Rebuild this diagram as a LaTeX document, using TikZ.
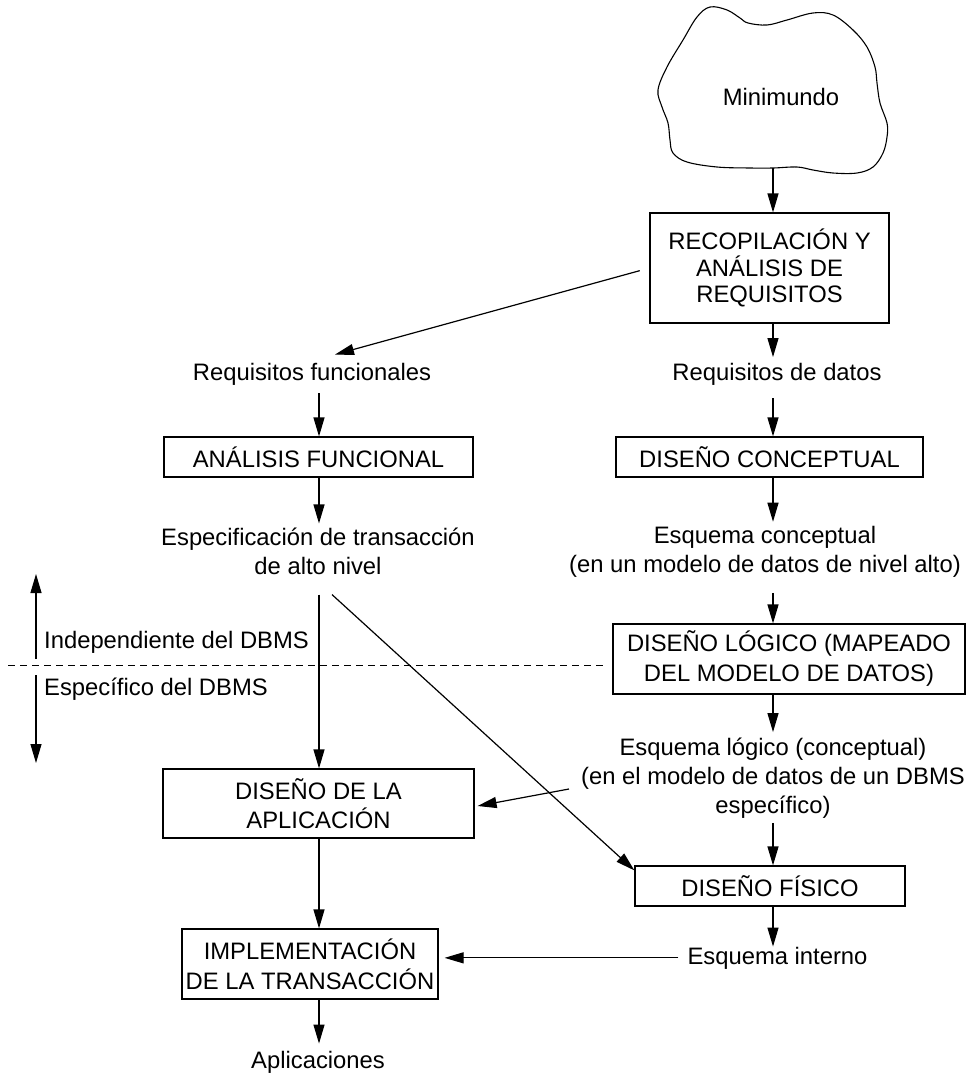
\documentclass[tikz,border=0pt]{standalone}
\usepackage{fontspec}
\setmainfont{Liberation Sans}
\usetikzlibrary{arrows.meta,calc}
\begin{document}
\begin{tikzpicture}[x=1pt,y=-1pt,
  font=\fontsize{23.8}{29}\selectfont,
  every node/.style={inner sep=0pt, align=center},
  box/.style={draw, line width=1.2pt},
  arr/.style={line width=1.2pt, -{Triangle[length=19pt,width=11pt]}},
  sep/.style={line width=1pt, dash pattern=on 7pt off 5pt}]
\useasboundingbox[fill=white] (0,0) rectangle (971,1074);

% column axes for the vertical connectors
\coordinate (colL) at (319,0);
\coordinate (colR) at (773,0);

% the mini-world cloud
\draw[line width=1.1pt] plot[smooth cycle, tension=0.6] coordinates {
  (658,90) (667,67) (683,40) (697,17) (710,7) (727,10) (740,18) (748,23)
  (767,25) (787,20) (813,13) (833,15) (853,30) (867,47) (875,67) (877,83)
  (880,103) (887,123) (887,137) (883,153) (873,167) (857,173) (833,173)
  (813,170) (797,167) (773,168) (750,168) (717,167) (687,162) (673,153)
  (670,140) (668,123) (662,107)};
\node[anchor=base] (mini) at (781,105) {Minimundo};
\coordinate (cloudb) at (773,168);

% process boxes and intermediate products
\node[box, minimum width=239pt, minimum height=110pt, font=\fontsize{23.8}{26.5}\selectfont] (req) at (769.5,268) {RECOPILACIÓN Y\\ANÁLISIS DE\\REQUISITOS};
\node[anchor=base] (rf) at (312,380) {Requisitos funcionales};
\node[anchor=base] (rd) at (777,380) {Requisitos de datos};
\node[box, minimum width=309pt, minimum height=40pt] (af) at (318.5,457) {ANÁLISIS FUNCIONAL};
\node[box, minimum width=307pt, minimum height=40pt] (dc) at (769.5,457) {DISEÑO CONCEPTUAL};
\node (esp) at (318,551) {Especificación de transacción\\de alto nivel};
\node (ec) at (765,552) {Esquema conceptual\\(en un modelo de datos de nivel alto)};
\node[box, minimum width=352pt, minimum height=70pt, font=\fontsize{23.8}{30}\selectfont] (dl) at (789,659) {DISEÑO LÓGICO (MAPEADO\\DEL MODELO DE DATOS)};
\node (el) at (773,778.5) {Esquema lógico (conceptual)\\(en el modelo de datos de un DBMS\\específico)};
\node[box, minimum width=311pt, minimum height=69pt] (dapp) at (318.5,803.5) {DISEÑO DE LA\\APLICACIÓN};
\node[box, minimum width=270pt, minimum height=40pt] (df) at (770,886) {DISEÑO FÍSICO};
\node[anchor=base] (ei) at (777.5,964) {Esquema interno};
\node[box, minimum width=256pt, minimum height=70pt, font=\fontsize{23.8}{30}\selectfont] (impl) at (310,964) {IMPLEMENTACIÓN\\DE LA TRANSACCIÓN};
\node[anchor=base] (apl) at (318,1068) {Aplicaciones};

% DBMS-independent / DBMS-specific split
\node[anchor=base west] (ind) at (44,648) {Independiente del DBMS};
\node[anchor=base west] (spec) at (44,695) {Específico del DBMS};
\coordinate (up0) at (36,659);
\coordinate (up1) at (36,574);
\coordinate (dn0) at (36,675);
\coordinate (dn1) at (36,763);
\coordinate (dash0) at (8,665);
\draw[arr] (up0) -- (up1);
\draw[arr] (dn0) -- (dn1);
\draw[sep, shorten >=5pt] (dash0) -- (dash0 -| dl.west);

% right column (data)
\draw[arr] (cloudb) -- (cloudb |- req.north);
\draw[arr, shorten >=5.5pt] (req.south -| colR) -- (rd.north -| colR);
\draw[arr, shorten <=13pt] (rd.south -| colR) -- (dc.north -| colR);
\draw[arr, shorten >=4.5pt] (dc.south -| colR) -- (ec.north -| colR);
\draw[arr, shorten <=15pt] (ec.south -| colR) -- (dl.north -| colR);
\draw[arr, shorten >=6pt] (dl.south -| colR) -- (el.north -| colR);
\draw[arr, shorten <=4pt] (el.south -| colR) -- (df.north -| colR);
\draw[arr] (df.south -| colR) -- (ei.north -| colR);

% left column (functional)
\draw[arr, shorten <=10pt] (req.west) -- ([xshift=23pt,yshift=8pt]rf.north);
\draw[arr, shorten <=8pt] (rf.south -| colL) -- (af.north -| colL);
\draw[arr, shorten >=4pt] (af.south -| colL) -- (esp.north -| colL);
\draw[arr, shorten <=20pt] (esp.south -| colL) -- (dapp.north -| colL);
\draw[arr] (dapp.south -| colL) -- (impl.north -| colL);
\draw[arr, shorten >=7pt] (impl.south -| colL) -- (apl.north -| colL);

% cross connections
\draw[arr] ([xshift=14pt,yshift=-20pt]esp.south) -- ([yshift=-5pt]df.north west);
\draw[arr] ([xshift=-12pt,yshift=-10.5pt]el.west) -- ([xshift=3pt,yshift=-2.5pt]dapp.east);
\draw[arr, shorten <=9pt, shorten >=6pt] (ei.west) -- (ei.west -| impl.east);
\end{tikzpicture}
\end{document}
